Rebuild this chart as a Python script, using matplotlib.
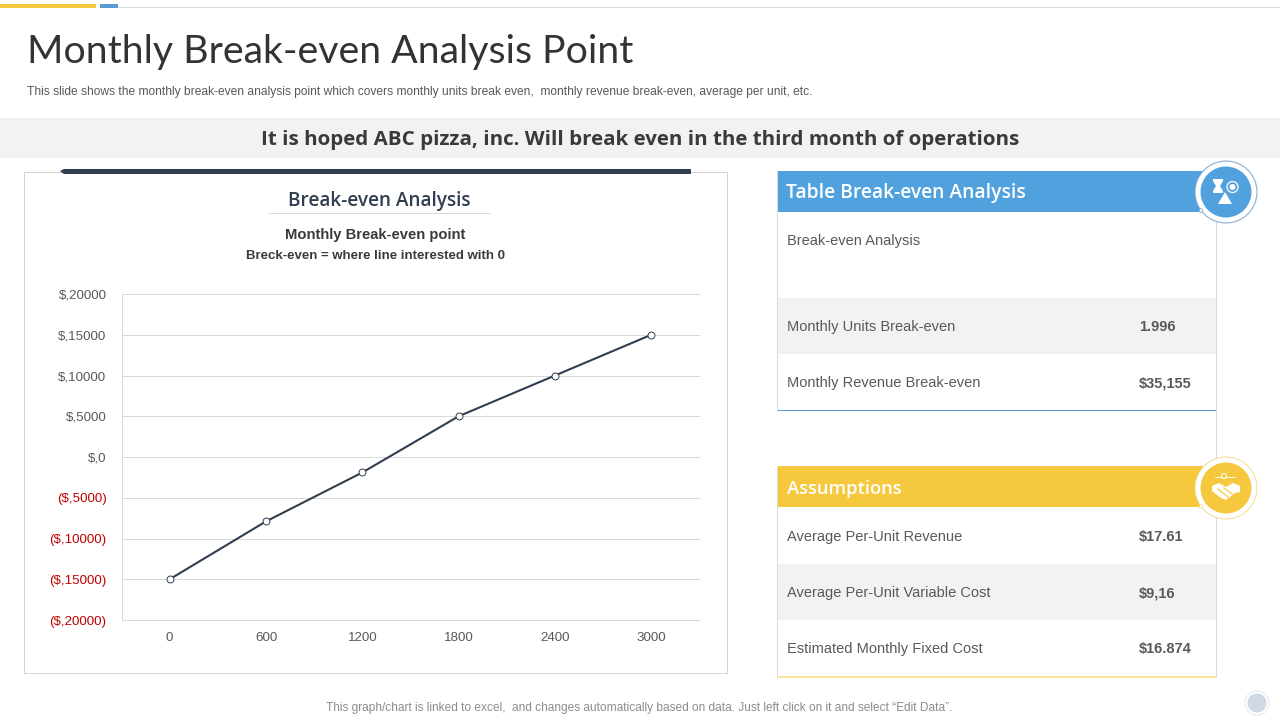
import matplotlib
matplotlib.use("Agg")
import matplotlib.pyplot as plt
from matplotlib.patches import Rectangle, Circle, Polygon

# chart data
units = ["0", "600", "1200", "1800", "2400", "3000"]
profit = [-15000, -7900, -1900, 5000, 10000, 15000]
y_ticks = [-20000, -15000, -10000, -5000, 0, 5000, 10000, 15000, 20000]
y_labels = ["($,20000)", "($,15000)", "($,10000)", "($,5000)", "$,0",
            "$,5000", "$,10000", "$,15000", "$,20000"]

# table data
breakeven_rows = ["Monthly Units Break-even", "Monthly Revenue Break-even"]
breakeven_vals = ["1.996", "$35,155"]
assumption_rows = ["Average Per-Unit Revenue", "Average Per-Unit Variable Cost",
                   "Estimated Monthly Fixed Cost"]
assumption_vals = ["$17.61", "$9,16", "$16.874"]

NAVY = "#2f3e50"
BLUE = "#52a1df"
YELLOW = "#f6c83e"
GREY = "#595959"
BODY = "Liberation Sans"
THIN = 0.72  # about one pixel at dpi 100

fig = plt.figure(figsize=(12.8, 7.2), dpi=100)

# background layer in pixel coords, y going down
bg = fig.add_axes([0, 0, 1, 1])
bg.set_xlim(0, 1280)
bg.set_ylim(720, 0)
bg.axis("off")


def rect(x, y, w, h, color, z=1):
    bg.add_patch(Rectangle((x, y), w, h, facecolor=color, edgecolor="none", zorder=z))


def hline(x0, x1, y, color, lw=THIN, z=2):
    bg.plot([x0, x1], [y, y], color=color, lw=lw, zorder=z, solid_capstyle="butt")


def vline(x, y0, y1, color, lw=THIN, z=2):
    bg.plot([x, x], [y0, y1], color=color, lw=lw, zorder=z, solid_capstyle="butt")


# top accent strip
rect(0, 4, 96, 4, YELLOW)
rect(100, 4, 18, 4, "#5b9bd5")
hline(118, 1280, 6.5, "#d9dde3")

bg.text(27, 52, "Monthly Break-even Analysis Point", fontsize=28.3, family="Lato",
        color="#333333", va="center", ha="left", fontweight="normal")
bg.text(27, 92, "This slide shows the monthly break-even analysis point which covers "
        "monthly units break even,  monthly revenue break-even, average per unit, etc.",
        fontsize=8.62, family=BODY, color=GREY, va="center")

# grey banner
rect(0, 118, 1280, 40, "#f2f2f2")
bg.text(640, 140.5, "It is hoped ABC pizza, inc. Will break even in the third month of operations",
        fontsize=14.75, family="Open Sans", fontweight="bold", color="#3a3a3a",
        ha="center", va="center")

# chart card
bg.add_patch(Rectangle((24, 172), 703, 501, facecolor="white",
                       edgecolor="#d4d4d4", lw=THIN, zorder=1))
bg.add_patch(Polygon([(60, 171), (64, 169), (691, 169), (691, 174), (64, 174)],
                     facecolor=NAVY, edgecolor="none", zorder=2))
bg.text(379.5, 201, "Break-even Analysis", fontsize=13.7, family="Open Sans",
        fontweight="semibold", color=NAVY, ha="center", va="center")
hline(268, 490, 212.5, "#d9d9d9")
bg.text(375.5, 235.5, "Monthly Break-even point", fontsize=10.6, family=BODY,
        fontweight="bold", color="#3a3a3a", ha="center", va="center")
bg.text(375, 256, "Breck-even = where line interested with 0", fontsize=9.57, family=BODY,
        fontweight="bold", color="#3a3a3a", ha="center", va="center")

# right table frame
vline(777, 171, 411, "#d9d9d9")
vline(777, 466, 677, "#d9d9d9")
vline(1216, 215, 677, "#d9d9d9")

rect(778, 171, 438, 41, BLUE)
bg.text(786, 193, "Table Break-even Analysis", fontsize=13.9, family="Open Sans",
        fontweight="semibold", color="white", va="center")
bg.text(787, 241, "Break-even Analysis", fontsize=10.5, family=BODY, color=GREY, va="center")

rect(778, 298, 438, 56, "#f2f2f2")
for i, (name, val) in enumerate(zip(breakeven_rows, breakeven_vals)):
    y = 327 + i * 56
    bg.text(787, y, name, fontsize=10.5, family=BODY, color=GREY, va="center")
    bg.text(1139, y, val, fontsize=10.5, family=BODY, fontweight="bold", color=GREY, va="center")
rect(778, 410, 438, 1, "#5b9bd5", z=3)

rect(778, 466, 438, 41, YELLOW)
bg.text(787, 489, "Assumptions", fontsize=13.2, family="Open Sans",
        fontweight="semibold", color="white", va="center")
rect(778, 564, 438, 56, "#f2f2f2")
for i, (name, val) in enumerate(zip(assumption_rows, assumption_vals)):
    y = 537 + i * 56
    bg.text(787, y, name, fontsize=10.5, family=BODY, color=GREY, va="center")
    bg.text(1139, y, val, fontsize=10.5, family=BODY, fontweight="bold", color=GREY, va="center")
hline(778, 1216, 676.5, "#f7e08f", 1.2)


def badge(cx, cy, color, ring):
    bg.add_patch(Circle((cx, cy), 31, facecolor="white", edgecolor=ring, lw=THIN, zorder=3))
    bg.add_patch(Circle((cx, cy), 25.5, facecolor=color, edgecolor="none", zorder=4))
    bg.add_patch(Circle((cx - 25, cy + 18.5), 1.8, facecolor="white", edgecolor=ring, lw=0.6, zorder=5))


# blue badge: hourglass, coin and balance
badge(1226, 192, BLUE, "#7fa9cc")
bg.add_patch(Polygon([(1213, 179), (1223, 179), (1223, 181), (1220, 186), (1223, 191), (1223, 193),
                      (1213, 193), (1213, 191), (1216, 186), (1213, 181)],
                     facecolor="white", edgecolor="none", zorder=6))
bg.add_patch(Circle((1232.5, 187), 5.5, facecolor="none", edgecolor="white", lw=0.9, zorder=6))
bg.add_patch(Circle((1232.5, 187), 3, facecolor="white", edgecolor="none", zorder=6))
bg.add_patch(Polygon([(1225, 192), (1218, 204), (1232, 204)], facecolor="white",
                     edgecolor="none", zorder=6))

# yellow badge: handshake
badge(1226, 488, YELLOW, "#f3dc92")
bg.add_patch(Polygon([(1212, 486), (1219, 483), (1226, 487), (1233, 483), (1240, 486),
                      (1240, 492), (1235, 493), (1226, 500), (1221, 498), (1212, 491)],
                     facecolor="white", edgecolor="none", zorder=6))
bg.plot([1218, 1228], [489, 497], color=YELLOW, lw=0.9, zorder=7)
bg.plot([1224, 1232], [488, 494], color=YELLOW, lw=0.9, zorder=7)
bg.plot([1215, 1235], [477, 477], color="white", lw=0.6, zorder=6)
bg.add_patch(Circle((1224, 476), 2.5, facecolor=YELLOW, edgecolor="white", lw=0.8, zorder=7))

# footer
bg.text(639.5, 707.5, "This graph/chart is linked to excel,  and changes automatically based on data. "
        "Just left click on it and select \u201cEdit Data\u201d.",
        fontsize=8.56, family=BODY, color="#8c8c8c", ha="center", va="center")
bg.add_patch(Circle((1257, 703), 12, facecolor="white", edgecolor="#e3e7ec", lw=THIN, zorder=3))
bg.add_patch(Circle((1257, 703), 9.5, facecolor="#cfd9e6", edgecolor="none", zorder=4))

# line chart
ax = fig.add_axes([121.5 / 1280, 1 - 620 / 720, 578 / 1280, 326 / 720])
ax.patch.set_alpha(0)
x = list(range(len(units)))
ax.plot(x, profit, color=NAVY, lw=1.5, marker="o", ms=5, mfc="white", mec=NAVY, mew=0.7,
        zorder=3, clip_on=False)
ax.set_xlim(-0.5, 5.5)
ax.set_ylim(-20000, 20000)
ax.set_xticks(x, units)
ax.set_yticks(y_ticks, y_labels)
ax.grid(axis="y", color="#d9d9d9", lw=THIN)
ax.set_axisbelow(True)
ax.tick_params(length=0)
ax.tick_params(axis="x", pad=8.7)
ax.tick_params(axis="y", pad=10.8)
for s in ["top", "right"]:
    ax.spines[s].set_visible(False)
for s in ["left", "bottom"]:
    ax.spines[s].set_color("#d9d9d9")
    ax.spines[s].set_linewidth(THIN)
for lab in ax.get_xticklabels():
    lab.set(family=BODY, fontsize=9.6, color=GREY)
for lab, v in zip(ax.get_yticklabels(), y_ticks):
    lab.set(family=BODY, fontsize=9.6, color="#c00000" if v < 0 else GREY)

fig.savefig("out.png", dpi=100)
